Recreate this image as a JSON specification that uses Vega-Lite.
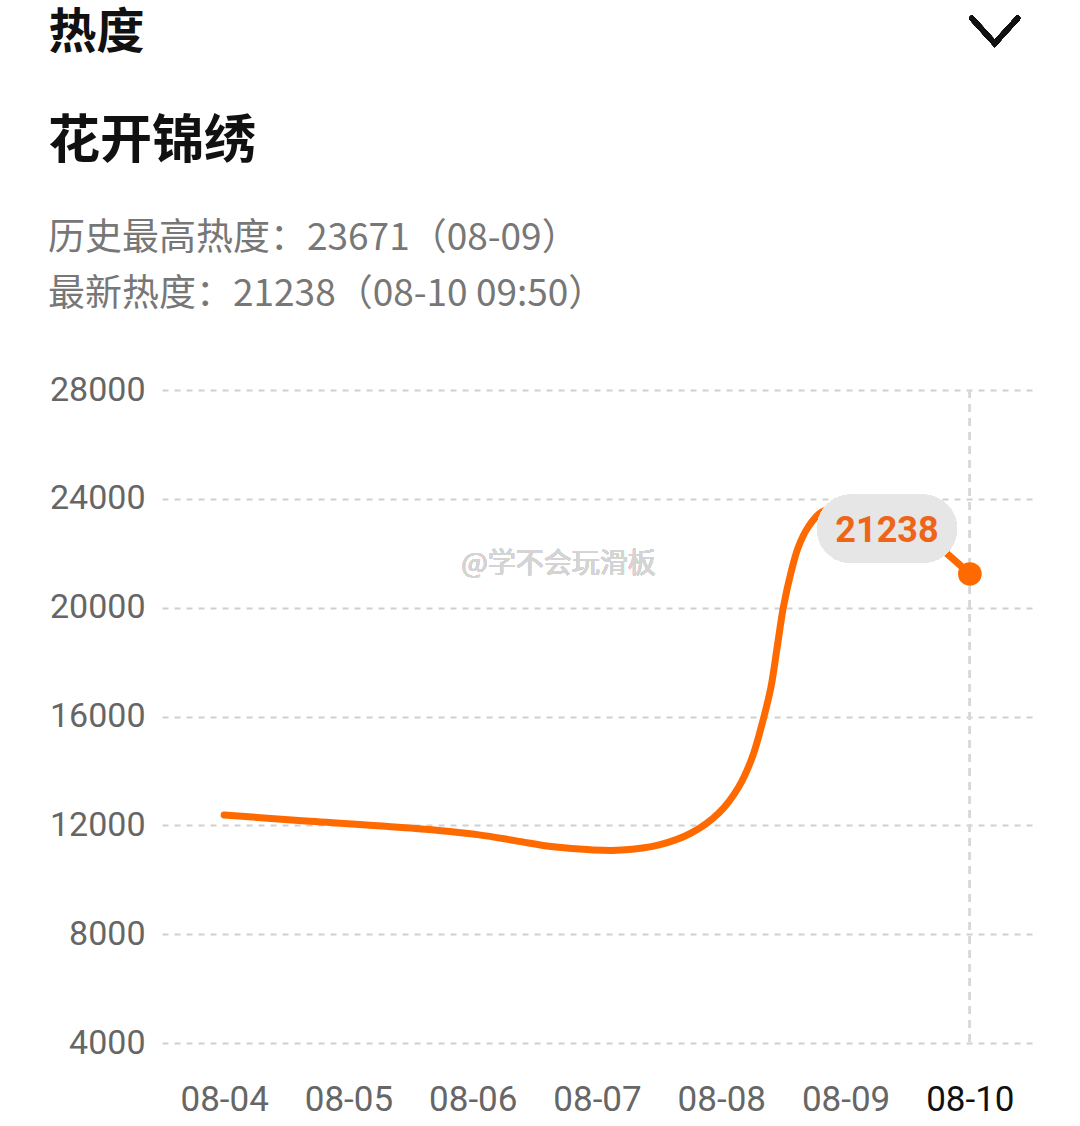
{
  "$schema": "https://vega.github.io/schema/vega-lite/v6.json",
  "width": 870,
  "height": 653,
  "autosize": {"type": "none"},
  "padding": {"left": 162, "top": 390, "right": 48, "bottom": 83},
  "background": "#ffffff",
  "title": {
    "text": "花开锦绣",
    "subtitle": ["历史最高热度：23671（08-09）", "最新热度：21238（08-10 09:50）"],
    "anchor": "start",
    "frame": "bounds",
    "offset": -306,
    "font": "Noto Sans CJK SC",
    "fontSize": 52,
    "fontWeight": "bold",
    "color": "#111111",
    "subtitleFont": "Noto Sans CJK SC",
    "subtitleFontSize": 37,
    "subtitleColor": "#777777",
    "subtitleLineHeight": 56,
    "subtitlePadding": 52
  },
  "config": {
    "view": {"stroke": null},
    "axis": {
      "labelFont": "Roboto",
      "labelColor": "#666666",
      "ticks": false,
      "domain": false
    }
  },
  "data": {
    "values": [
      {"t": 0, "v": 12380},
      {"t": 0.6, "v": 12180},
      {"t": 1.5, "v": 11900},
      {"t": 2.05, "v": 11650},
      {"t": 2.35, "v": 11430},
      {"t": 2.65, "v": 11210},
      {"t": 2.95, "v": 11100},
      {"t": 3.2, "v": 11090},
      {"t": 3.5, "v": 11280},
      {"t": 3.76, "v": 11720},
      {"t": 3.98, "v": 12450},
      {"t": 4.14, "v": 13410},
      {"t": 4.25, "v": 14510},
      {"t": 4.33, "v": 15760},
      {"t": 4.4, "v": 17090},
      {"t": 4.45, "v": 18560},
      {"t": 4.5, "v": 20030},
      {"t": 4.56, "v": 21280},
      {"t": 4.62, "v": 22230},
      {"t": 4.7, "v": 22970},
      {"t": 4.81, "v": 23520},
      {"t": 5.0, "v": 23671},
      {"t": 5.24, "v": 23480},
      {"t": 5.37, "v": 23230},
      {"t": 5.65, "v": 22600},
      {"t": 5.81, "v": 22010},
      {"t": 6.0, "v": 21238}
    ]
  },
  "encoding": {
    "x": {
      "field": "t",
      "type": "quantitative",
      "scale": {"domain": [-0.5, 6.5], "nice": false, "zero": false},
      "axis": {
        "values": [0, 1, 2, 3, 4, 5, 6],
        "labelExpr": "['08-04','08-05','08-06','08-07','08-08','08-09','08-10'][datum.value]",
        "labelFontSize": 35,
        "labelPadding": 39,
        "labelColor": {"condition": {"test": "datum.value === 6", "value": "#111111"}, "value": "#666666"},
        "grid": false,
        "title": null
      }
    },
    "y": {
      "field": "v",
      "type": "quantitative",
      "scale": {"domain": [4000, 28000], "nice": false, "zero": false},
      "axis": {
        "values": [4000, 8000, 12000, 16000, 20000, 24000, 28000],
        "format": "d",
        "labelFontSize": 34,
        "labelPadding": 17,
        "grid": true,
        "gridColor": "#d0d0d0",
        "gridWidth": 2,
        "gridDash": [6, 6],
        "title": "热度",
        "titleAngle": 0,
        "titleAlign": "left",
        "titleBaseline": "middle",
        "titleX": -114,
        "titleY": -357,
        "titleFont": "Noto Sans CJK SC",
        "titleFontSize": 48,
        "titleFontWeight": "bold",
        "titleColor": "#111111"
      }
    }
  },
  "layer": [
    {
      "mark": {"type": "rule", "color": "#d8d8d8", "strokeWidth": 2, "strokeDash": [8, 6]},
      "encoding": {
        "x": {"datum": 6},
        "y": {"datum": 28000},
        "y2": {"datum": 4000}
      }
    },
    {
      "mark": {
        "type": "line",
        "interpolate": "catmull-rom",
        "color": "#ff6a00",
        "strokeWidth": 7,
        "strokeCap": "round"
      }
    },
    {
      "transform": [{"filter": "datum.t === 6"}],
      "mark": {"type": "circle", "color": "#ff6a00", "opacity": 1, "size": 560}
    },
    {
      "mark": {"type": "rect", "fill": "#e6e6e6", "fillOpacity": 0.68, "cornerRadius": 34},
      "encoding": {
        "x": {"datum": 4.77},
        "x2": {"datum": 5.896},
        "y": {"datum": 24150},
        "y2": {"datum": 21650}
      }
    },
    {
      "transform": [{"filter": "datum.t === 6"}],
      "mark": {
        "type": "text",
        "font": "Roboto",
        "fontSize": 36,
        "fontWeight": "bold",
        "color": "#ee6418",
        "align": "center",
        "baseline": "middle"
      },
      "encoding": {
        "x": {"datum": 5.333},
        "y": {"datum": 22821},
        "text": {"field": "v", "type": "quantitative", "format": "d"}
      }
    },
    {
      "mark": {
        "type": "text",
        "text": "@学不会玩滑板",
        "font": "Noto Sans CJK SC",
        "fontSize": 28,
        "color": "#d4d4d4",
        "align": "center",
        "baseline": "middle",
        "clip": false
      },
      "encoding": {
        "x": {"datum": 2.69},
        "y": {"datum": 21571}
      }
    },
    {
      "mark": {
        "type": "point",
        "shape": "M-1,-0.55L0,0.55L1,-0.55",
        "filled": false,
        "stroke": "#111111",
        "strokeWidth": 5,
        "strokeCap": "round",
        "size": 2100,
        "opacity": 1,
        "clip": false
      },
      "encoding": {
        "x": {"datum": 6.2},
        "y": {"datum": 41200}
      }
    }
  ]
}
